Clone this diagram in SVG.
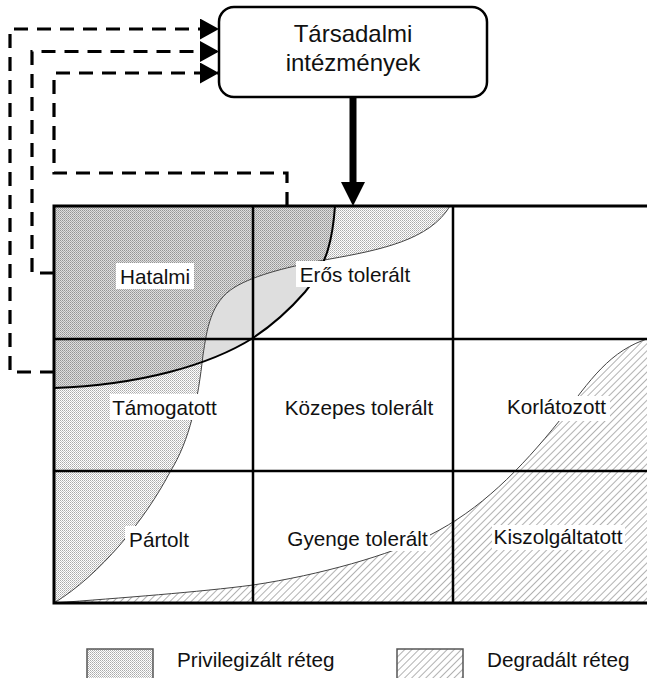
<svg xmlns="http://www.w3.org/2000/svg" width="647" height="678" viewBox="0 0 647 678">
<style>
.lbl{font-family:"Liberation Sans",Arial,sans-serif;font-size:20.7px;fill:#111;text-anchor:middle}
.ttl{font-family:"Liberation Sans",Arial,sans-serif;font-size:24px;fill:#111;text-anchor:middle}
.leg{font-family:"Liberation Sans",Arial,sans-serif;font-size:20.7px;fill:#111}
.bg{fill:#fff;stroke:none}
.dash{fill:none;stroke:#000;stroke-width:3.2;stroke-dasharray:14 9}
.grid{fill:none;stroke:#000;stroke-width:2.5}
.outer{fill:none;stroke:#000;stroke-width:3}
.thin{fill:none;stroke:#444;stroke-width:1}
</style>
<defs>
<pattern id="dots" width="2" height="2" patternUnits="userSpaceOnUse">
<rect width="2" height="2" fill="#fff"/>
<rect x="0" y="0" width="1" height="1" fill="#aaa"/>
<rect x="1" y="1" width="1" height="1" fill="#c4c4c4"/>
</pattern>
<pattern id="hatch" width="5" height="5" patternUnits="userSpaceOnUse" patternTransform="rotate(45)">
<rect width="5" height="5" fill="#fff"/>
<line x1="0" y1="0" x2="0" y2="5" stroke="#888" stroke-width="1.3"/>
</pattern>
<marker id="ah" markerUnits="userSpaceOnUse" markerWidth="22" markerHeight="22" refX="19" refY="10.5" orient="auto">
<path d="M0,0 L19,10.5 L0,21 Z" fill="#000"/>
</marker>
</defs>

<g id="regions">
<path id="privileged" d="M54,206 L450,206 C430,240 380,250 330,259 C290,266 255,275 235,287 C210,302 207,330 203,355 C198,400 190,440 170,472 C145,520 100,575 54,603 Z" fill="url(#dots)"/>
<path id="power" d="M54,206 L335,206 C333,235 328,265 305,292 C285,315 265,330 253,338 C210,365 140,385 54,388 Z" fill="#000" fill-opacity="0.13"/>
<path id="degraded" d="M54,603 C120,598 200,592 253,585 C320,575 390,555 430,535 C480,510 520,470 560,420 C590,380 610,350 650,338 L650,603 Z" fill="url(#hatch)"/>
<path class="thin" d="M450,206 C430,240 380,250 330,259 C290,266 255,275 235,287 C210,302 207,330 203,355 C198,400 190,440 170,472 C145,520 100,575 54,603"/>
<path fill="none" stroke="#000" stroke-width="2" d="M335,206 C333,235 328,265 305,292 C285,315 265,330 253,338 C210,365 140,385 54,388"/>
<path class="thin" d="M54,603 C120,598 200,592 253,585 C320,575 390,555 430,535 C480,510 520,470 560,420 C590,380 610,350 650,338"/>
</g>

<g id="grid">
<line class="grid" x1="54" y1="339" x2="650" y2="339"/>
<line class="grid" x1="54" y1="471" x2="650" y2="471"/>
<line class="grid" x1="253" y1="206" x2="253" y2="603"/>
<line class="grid" x1="453" y1="206" x2="453" y2="603"/>
<path class="outer" d="M650,206 H54 V603 H650"/>
</g>

<g id="connectors">
<path class="dash" d="M54,372 H10 V29 H219" marker-end="url(#ah)"/>
<path class="dash" d="M54,273 H32 V51.5 H219" marker-end="url(#ah)"/>
<path class="dash" d="M287,206 V173 H54 V73 H219" marker-end="url(#ah)"/>
<line x1="353" y1="97" x2="353" y2="184" stroke="#000" stroke-width="7"/>
<polygon points="341,182 365,182 353,206" fill="#000"/>
</g>

<g id="node-institutions">
<rect x="219" y="7" width="268" height="90" rx="15" ry="15" fill="#fff" stroke="#000" stroke-width="2.5"/>
<text class="ttl" x="353" y="42">Társadalmi</text>
<text class="ttl" x="353" y="71">intézmények</text>
</g>

<g id="node-hatalmi"><rect class="bg" x="116" y="263" width="78" height="26"/><text class="lbl" x="155" y="284">Hatalmi</text></g>
<g id="node-eros"><rect class="bg" x="296" y="261" width="118" height="26"/><text class="lbl" x="355" y="282">Erős tolerált</text></g>
<g id="node-tamogatott"><rect class="bg" x="110" y="394" width="110" height="26"/><text class="lbl" x="164.5" y="415">Támogatott</text></g>
<g id="node-kozepes"><rect class="bg" x="283" y="394" width="152" height="26"/><text class="lbl" x="359" y="415">Közepes tolerált</text></g>
<g id="node-korlatozott"><rect class="bg" x="503" y="396" width="107" height="25"/><text class="lbl" x="556.5" y="414">Korlátozott</text></g>
<g id="node-partolt"><rect class="bg" x="125" y="526" width="68" height="26"/><text class="lbl" x="159" y="547">Pártolt</text></g>
<g id="node-gyenge"><rect class="bg" x="285" y="526" width="145" height="25"/><text class="lbl" x="357.5" y="546">Gyenge tolerált</text></g>
<g id="node-kiszolgaltatott"><rect class="bg" x="492" y="525" width="133" height="25"/><text class="lbl" x="558" y="544">Kiszolgáltatott</text></g>

<g id="legend">
<rect x="87" y="649" width="66" height="40" fill="url(#dots)" stroke="#555" stroke-width="1.5"/>
<text class="leg" x="177" y="667">Privilegizált réteg</text>
<rect x="397" y="649" width="66" height="40" fill="url(#hatch)" stroke="#555" stroke-width="1.5"/>
<text class="leg" x="487" y="667">Degradált réteg</text>
</g>
</svg>
